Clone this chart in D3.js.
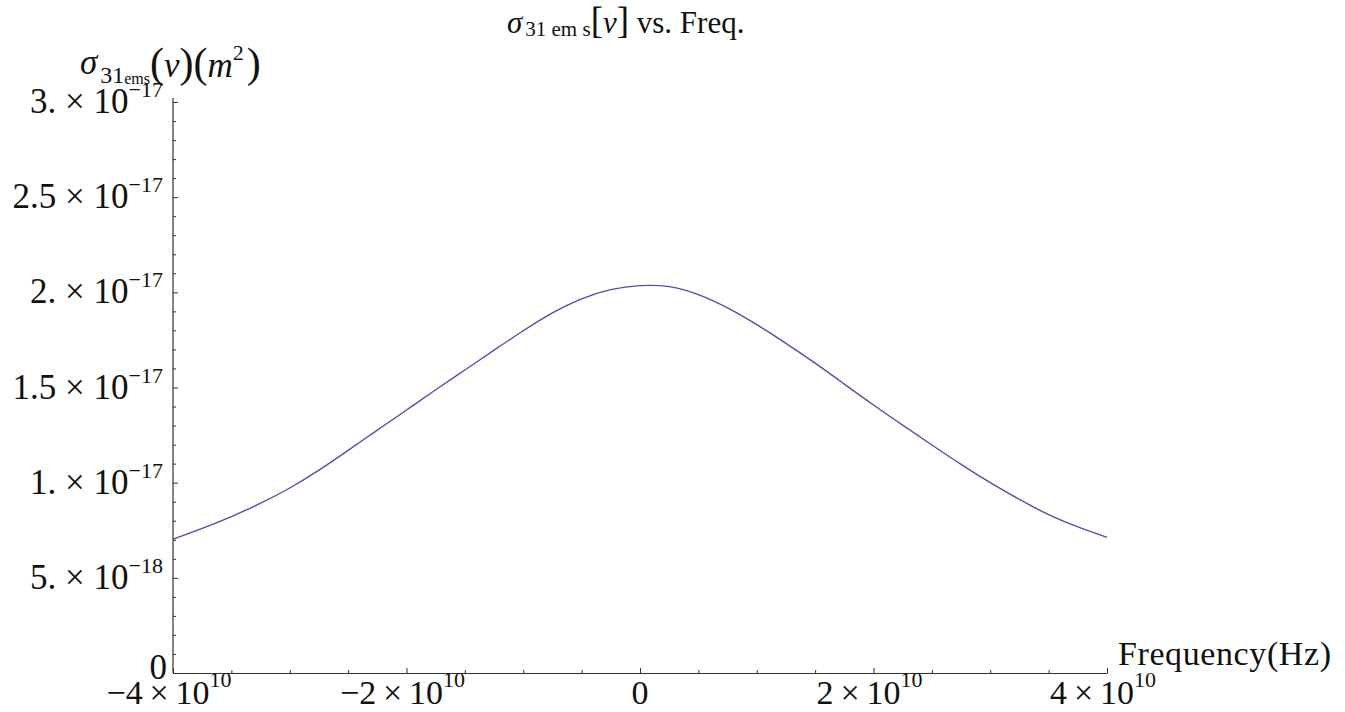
<!DOCTYPE html>
<html>
<head>
<meta charset="utf-8">
<script src="https://cdn.jsdelivr.net/npm/d3@7"></script>
<style>
  body { margin: 0; background: #fff; }
  svg { display: block; }
  text { font-family: "Liberation Serif", "Times New Roman", serif; fill: #111; }
  .axis path, .axis line { stroke: #333; }
</style>
</head>
<body>
<svg id="chart" width="1345" height="712"></svg>
<script>
// frequency in units of 1e10 Hz, cross section in units of 1e-18 m^2
var freq = [-4, -3.75, -3.5, -3.25, -3, -2.75, -2.5, -2.25, -2, -1.75, -1.5, -1.25, -1, -0.75, -0.5, -0.25,
            0, 0.25, 0.5, 0.75, 1, 1.25, 1.5, 1.75, 2, 2.25, 2.5, 2.75, 3, 3.25, 3.5, 3.75, 4];
var sigma = [7.03, 7.60, 8.22, 8.92, 9.72, 10.66, 11.70, 12.76, 13.82, 14.88, 15.92, 16.96, 17.98, 18.92, 19.66, 20.14,
             20.35, 20.30, 19.88, 19.18, 18.30, 17.32, 16.28, 15.18, 14.08, 13.02, 11.98, 10.96, 10.00, 9.12, 8.32, 7.68, 7.13];

var xTicks = [-4e10, -2e10, 0, 2e10, 4e10];
var xTickMant = ["\u22124", "\u22122", "0", "2", "4"];
var xTickExp = ["10", "10", "", "10", "10"];

var yTicks = [0, 5e-18, 1e-17, 1.5e-17, 2e-17, 2.5e-17, 3e-17];
var yTickMant = ["0", "5.", "1.", "1.5", "2.", "2.5", "3."];
var yTickExp = ["", "\u221218", "\u221217", "\u221217", "\u221217", "\u221217", "\u221217"];

var data = freq.map(function(f, i){ return { f: f * 1e10, s: sigma[i] * 1e-18 }; });

var svg = d3.select("#chart");

var x = d3.scaleLinear().domain([-4e10, 4e10]).range([173, 1107]);
var y = d3.scaleLinear().domain([0, 3e-17]).range([673, 102]);

// minor ticks
var xMinor = d3.range(-4e10, 4.01e10, 5e9).filter(function(v){ return xTicks.indexOf(v) < 0; });
var yMinor = d3.range(0, 3.01e-17, 1e-18).map(function(v){ return Math.round(v * 1e19) / 1e19; })
  .filter(function(v){ return !yTicks.some(function(t){ return Math.abs(t - v) < 1e-20; }); });

// x axis
svg.append("g").attr("class", "axis")
  .attr("transform", "translate(0," + y(0) + ")")
  .call(d3.axisBottom(x).tickValues(xTicks).tickSizeInner(-5).tickSizeOuter(0).tickFormat(""))
  .call(function(g){ g.select(".domain").attr("stroke-width", 1.2); });
svg.append("g").attr("class", "axis")
  .attr("transform", "translate(0," + y(0) + ")")
  .call(d3.axisBottom(x).tickValues(xMinor).tickSizeInner(-3).tickSizeOuter(0).tickFormat(""))
  .call(function(g){ g.select(".domain").remove(); });

// y axis
svg.append("g").attr("class", "axis")
  .attr("transform", "translate(" + x(-4e10) + ",0)")
  .call(d3.axisLeft(y).tickValues(yTicks).tickSizeInner(-5).tickSizeOuter(0).tickFormat(""))
  .call(function(g){ g.select(".domain").remove(); });
svg.append("g").attr("class", "axis")
  .attr("transform", "translate(" + x(-4e10) + ",0)")
  .call(d3.axisLeft(y).tickValues(yMinor).tickSizeInner(-3).tickSizeOuter(0).tickFormat(""))
  .call(function(g){ g.select(".domain").remove(); });
svg.append("line")
  .attr("x1", x(-4e10)).attr("x2", x(-4e10))
  .attr("y1", y(0)).attr("y2", y(3e-17) - 4)
  .attr("stroke", "#333").attr("stroke-width", 1.2);

// y tick labels
yTicks.forEach(function(v, i){
  var t = svg.append("text")
    .attr("x", i === 0 ? 167 : 163)
    .attr("y", y(v) + (i === 0 ? 6 : 11))
    .attr("text-anchor", "end")
    .style("font-size", "35px");
  if (yTickExp[i] === "") {
    t.text(yTickMant[i]);
  } else {
    t.append("tspan").text(yTickMant[i] + " \u00d7 10");
    t.append("tspan").attr("dy", -16).style("font-size", "22px").text(yTickExp[i]);
  }
});

// x tick labels
xTicks.forEach(function(v, i){
  var t = svg.append("text")
    .attr("x", x(v) - (xTickExp[i] ? 4 : 0))
    .attr("y", 704)
    .attr("text-anchor", "middle")
    .style("font-size", "34px");
  if (xTickExp[i] === "") {
    t.text(xTickMant[i]);
  } else {
    t.append("tspan").text(xTickMant[i] + "\u2009\u00d7\u200910");
    t.append("tspan").attr("dy", -17).style("font-size", "22px").text(xTickExp[i]);
  }
});

// curve
var line = d3.line()
  .x(function(d){ return x(d.f); })
  .y(function(d){ return y(d.s); })
  .curve(d3.curveNatural);

svg.append("path")
  .datum(data)
  .attr("d", line)
  .attr("fill", "none")
  .attr("stroke", "#5050a8")
  .attr("stroke-width", 1.4);

// x axis label
svg.append("text")
  .attr("x", 1118).attr("y", 665)
  .style("font-size", "34px")
  .style("letter-spacing", "0.6px")
  .text("Frequency(Hz)");

// y axis label: sigma_31ems(nu)(m^2)
var yl = svg.append("text").attr("x", 80).attr("y", 74).style("font-size", "35px");
yl.append("tspan").style("font-style", "italic").text("\u03c3");
yl.append("tspan").attr("dx", 3).attr("dy", 9).style("font-size", "24px").text("31");
yl.append("tspan").attr("dy", 1).style("font-size", "16px").text("ems");
yl.append("tspan").attr("dy", -7).style("font-size", "42px").text("(");
yl.append("tspan").style("font-style", "italic").text("\u03bd");
yl.append("tspan").style("font-size", "42px").text(")(");
yl.append("tspan").style("font-style", "italic").text("m");
yl.append("tspan").attr("dy", -17).style("font-size", "22px").text("2");
yl.append("tspan").attr("dx", 3).attr("dy", 17).style("font-size", "42px").text(")");

// title
var tt = svg.append("text").attr("x", 507).attr("y", 33).style("font-size", "31px");
tt.append("tspan").style("font-style", "italic").text("\u03c3");
tt.append("tspan").attr("dx", 3).attr("dy", 3).style("font-size", "21px").text("31 em s");
tt.append("tspan").attr("dy", -3).style("font-size", "37px").text("[");
tt.append("tspan").style("font-style", "italic").text("\u03bd");
tt.append("tspan").style("font-size", "37px").text("]");
tt.append("tspan").text(" vs. Freq.");
</script>
</body>
</html>
